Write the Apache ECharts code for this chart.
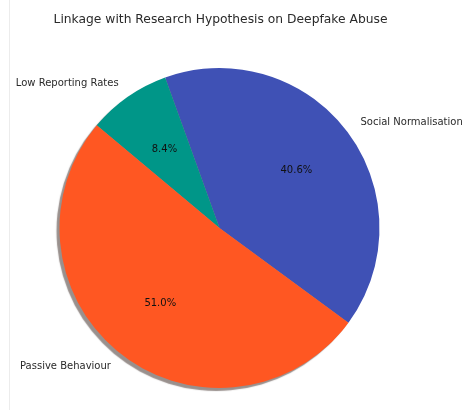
<!DOCTYPE html>
<html>
<head>
<meta charset="utf-8">
<script src="https://cdn.jsdelivr.net/npm/echarts@6/dist/echarts.min.js"></script>
<style>
  html, body { margin: 0; padding: 0; background: #fff; }
  #chart { width: 465px; height: 410px; }
</style>
</head>
<body>
<div id="chart"></div>
<script>
// Share of responses by linkage category
const categories = ['Social Normalisation', 'Low Reporting Rates', 'Passive Behaviour'];
const shares = [40.6, 8.4, 51.0];
const colors = ['#3F51B5', '#009688', '#FF5722'];
const titleText = 'Linkage with Research Hypothesis on Deepfake Abuse';

const FONT = '"DejaVu Sans", sans-serif';
const CX = 219.5, CY = 228, R = 160;
const START = -36.3;

const chart = echarts.init(document.getElementById('chart'), null, { renderer: 'canvas' });

const sliceData = categories.map((name, i) => ({
  name: name,
  value: shares[i],
  itemStyle: { color: colors[i] }
}));

chart.setOption({
  animation: false,
  backgroundColor: '#ffffff',
  graphic: [
    {
      type: 'line',
      shape: { x1: 9.5, y1: 0, x2: 9.5, y2: 410 },
      style: { stroke: '#ececec', lineWidth: 1 },
      silent: true
    },
    {
      type: 'text',
      x: 220.5,
      y: 20,
      style: {
        text: titleText,
        font: '12.3px ' + FONT,
        fill: '#2a2a2a',
        textAlign: 'center',
        textVerticalAlign: 'middle'
      },
      silent: true
    }
  ],
  series: [
    {
      // wedges with category names just outside the rim
      type: 'pie',
      center: [CX, CY],
      radius: R,
      startAngle: START,
      clockwise: false,
      avoidLabelOverlap: false,
      silent: true,
      itemStyle: {
        borderWidth: 0,
        shadowBlur: 1,
        shadowOffsetX: -3,
        shadowOffsetY: 3,
        shadowColor: 'rgba(70, 52, 48, 0.55)'
      },
      label: {
        show: true,
        position: 'outside',
        formatter: '{b}',
        fontFamily: FONT,
        fontSize: 10,
        color: '#2a2a2a',
        distanceToLabelLine: 0
      },
      labelLine: { show: false, length: 16, length2: 0 },
      emphasis: { disabled: true },
      data: sliceData
    },
    {
      // percentage labels at 0.6 of the radius
      type: 'pie',
      center: [CX, CY],
      radius: [0, 186],
      startAngle: START,
      clockwise: false,
      avoidLabelOverlap: false,
      silent: true,
      z: 3,
      itemStyle: { color: 'rgba(0,0,0,0)', borderWidth: 0 },
      label: {
        show: true,
        position: 'inside',
        formatter: p => p.value.toFixed(1) + '%',
        fontFamily: FONT,
        fontSize: 10,
        color: '#111'
      },
      labelLine: { show: false },
      emphasis: { disabled: true },
      data: categories.map((name, i) => ({ name: name, value: shares[i] }))
    }
  ]
});
</script>
</body>
</html>
